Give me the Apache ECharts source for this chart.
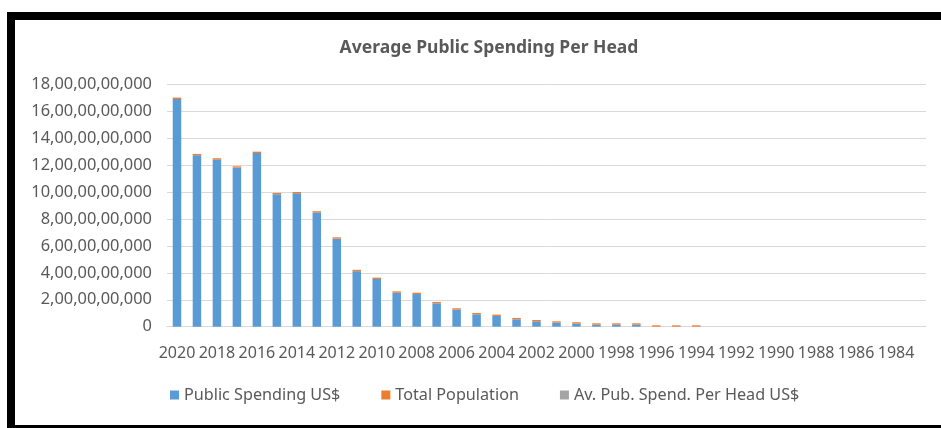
<!DOCTYPE html>
<html>
<head>
<meta charset="utf-8">
<script src="https://cdn.jsdelivr.net/npm/echarts@6/dist/echarts.min.js"></script>
<style>
html,body{margin:0;padding:0;background:#fff;}
#chart{width:941px;height:428px;}
</style>
</head>
<body>
<div id="chart"></div>
<script>
var years = ['2020','2019','2018','2017','2016','2015','2014','2013','2012','2011','2010','2009','2008','2007','2006','2005','2004','2003','2002','2001','2000','1999','1998','1997','1996','1995','1994','1993','1992','1991','1990','1989','1988','1987','1986','1985','1984','1983'];
var publicSpending = [16.93e9,12.75e9,12.43e9,11.83e9,12.92e9,9.85e9,9.92e9,8.49e9,6.55e9,4.13e9,3.55e9,2.53e9,2.43e9,1.74e9,1.27e9,0.92e9,0.80e9,0.55e9,0.40e9,0.30e9,0.23e9,0.15e9,0.15e9,0.15e9,null,null,null,null,null,null,null,null,null,null,null,null,null,null];
var totalPopulation = [0.11e9,0.10e9,0.10e9,0.10e9,0.10e9,0.10e9,0.10e9,0.10e9,0.10e9,0.10e9,0.10e9,0.10e9,0.10e9,0.10e9,0.10e9,0.10e9,0.10e9,0.10e9,0.10e9,0.10e9,0.10e9,0.10e9,0.10e9,0.10e9,0.10e9,0.10e9,0.10e9,null,null,null,null,null,null,null,null,null,null,null];
var perHead = [154,128,124,118,129,99,99,85,66,41,36,25,24,17,13,9,8,6,4,3,2,2,2,2,null,null,null,null,null,null,null,null,null,null,null,null,null,null];
var yMax = 18e9;
var yInterval = 2e9;

function indianFormat(v){
  var s = Math.round(v).toString();
  if (s.length <= 3) return s;
  var last3 = s.slice(-3);
  var rest = s.slice(0, -3);
  var parts = [];
  while (rest.length > 2){
    parts.unshift(rest.slice(-2));
    rest = rest.slice(0, -2);
  }
  if (rest.length) parts.unshift(rest);
  return parts.join(',') + ',' + last3;
}

var chart = echarts.init(document.getElementById('chart'), null, {renderer:'canvas'});
var font = '"Noto Sans", sans-serif';
var txt = '#595959';
chart.setOption({
  animation:false,
  title:{
    text:'Average Public Spending Per Head',
    left:484, top:34, textAlign:'center',
    textStyle:{fontFamily:font, fontSize:17.5, fontWeight:'bold', color:txt}
  },
  legend:{
    left:165, top:382,
    itemWidth:9, itemHeight:9, itemGap:41,
    icon:'rect',
    textStyle:{fontFamily:font, fontSize:16.2, color:txt},
    data:['Public Spending US$','Total Population','Av. Pub. Spend. Per Head US$']
  },
  grid:{left:167, right:15, top:84.7, bottom:101.3, containLabel:false},
  xAxis:{
    type:'category',
    data:years,
    axisLine:{lineStyle:{color:'#D9D9D9', width:1}},
    axisTick:{show:false},
    axisLabel:{interval:1, color:txt, fontFamily:font, fontSize:16, margin:19}
  },
  yAxis:{
    type:'value', min:0, max:yMax, interval:yInterval,
    axisLine:{show:false}, axisTick:{show:false},
    splitLine:{lineStyle:{color:'#D9D9D9', width:1}},
    axisLabel:{color:txt, fontFamily:font, fontSize:16.4, margin:15, formatter:indianFormat}
  },
  series:[
    {name:'Public Spending US$', type:'bar', stack:'a', data:publicSpending, barWidth:8.5, itemStyle:{color:'#5B9BD5'}},
    {name:'Total Population', type:'bar', stack:'a', data:totalPopulation, barWidth:8.5, itemStyle:{color:'#ED7D31'}},
    {name:'Av. Pub. Spend. Per Head US$', type:'bar', stack:'a', data:perHead, barWidth:8.5, itemStyle:{color:'#A5A5A5'}}
  ],
  graphic:[
    {type:'rect', shape:{x:7, y:12, width:934, height:8}, style:{fill:'#000'}},
    {type:'rect', shape:{x:7, y:12, width:8, height:416}, style:{fill:'#000'}},
    {type:'rect', shape:{x:7, y:425, width:934, height:3}, style:{fill:'#000'}}
  ]
});
</script>
</body>
</html>
